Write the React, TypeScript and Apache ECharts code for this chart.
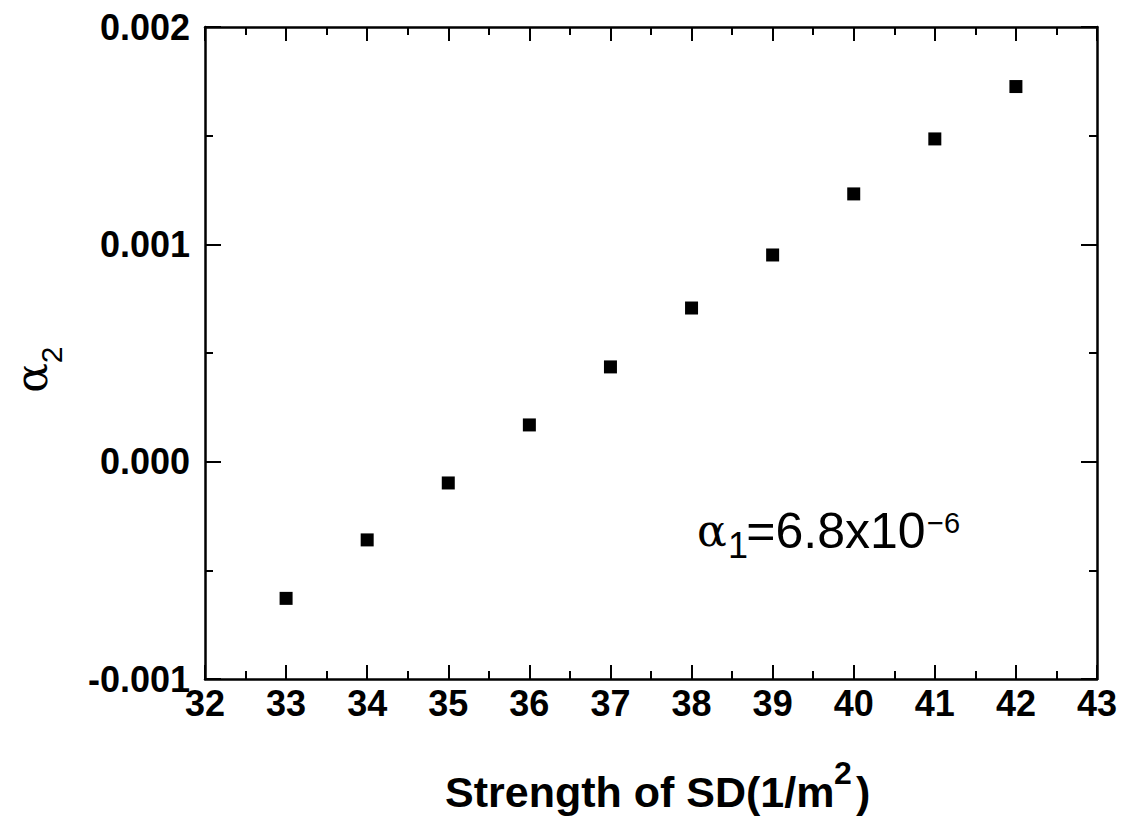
import React, { useEffect, useRef } from "react";
import * as echarts from "echarts";

const xValues = [33, 34, 35, 36, 37, 38, 39, 40, 41, 42];
const alpha2Values = [
  -0.000629, -0.00036, -0.000098, 0.000169, 0.000436, 0.000707, 0.000951,
  0.001232, 0.001485, 0.001726,
];
const xTickRange = [32, 43];
const yTickRange = [-0.001, 0.002];

const SANS = "'Liberation Sans', Arial, Helvetica, sans-serif";
const SERIF = "'DejaVu Serif', 'Liberation Serif', serif";

export default function App() {
  const ref = useRef<HTMLDivElement>(null);

  useEffect(() => {
    if (!ref.current) return;
    const chart = echarts.init(ref.current, null, { renderer: "svg" });

    const lineStyle = { color: "#000", width: 2.5 };
    const tickLine = { color: "#000", width: 2 };

    const xBase = {
      type: "value" as const,
      min: xTickRange[0],
      max: xTickRange[1],
      interval: 1,
      splitLine: { show: false },
      axisLine: { show: true, onZero: false, lineStyle },
      axisTick: { show: true, inside: true, length: 14, lineStyle: tickLine },
      minorTick: { show: true, splitNumber: 2, length: 8, lineStyle: tickLine },
    };
    const yBase = {
      type: "value" as const,
      min: yTickRange[0],
      max: yTickRange[1],
      interval: 0.001,
      splitLine: { show: false },
      axisLine: { show: true, onZero: false, lineStyle },
      axisTick: { show: true, inside: true, length: 16, lineStyle: tickLine },
      minorTick: { show: true, splitNumber: 2, length: 8, lineStyle: tickLine },
    };

    chart.setOption({
      animation: false,
      backgroundColor: "#fff",
      grid: { left: 205, top: 27, width: 892, height: 652, containLabel: false },
      xAxis: [
        {
          ...xBase,
          position: "bottom",
          axisLabel: {
            show: true,
            margin: 6,
            color: "#000",
            fontFamily: SANS,
            fontWeight: "bold",
            fontSize: 36,
          },
        },
        { ...xBase, position: "top", axisLabel: { show: false } },
      ],
      yAxis: [
        {
          ...yBase,
          position: "left",
          axisLabel: {
            show: true,
            margin: 15,
            color: "#000",
            fontFamily: SANS,
            fontWeight: "bold",
            fontSize: 36,
            formatter: (v: number) => {
              const s = v.toFixed(3);
              return s === "-0.000" ? "0.000" : s;
            },
          },
        },
        { ...yBase, position: "right", axisLabel: { show: false } },
      ],
      series: [
        {
          type: "scatter",
          xAxisIndex: 0,
          yAxisIndex: 0,
          symbol: "rect",
          symbolSize: 13,
          itemStyle: { color: "#000", opacity: 1 },
          data: xValues.map((x, i) => [x, alpha2Values[i]]),
        },
      ],
      graphic: [
        // x axis title
        {
          type: "text",
          left: 445,
          top: 770,
          style: {
            text: "Strength of SD(1/m",
            font: `bold 43px ${SANS}`,
            fill: "#000",
          },
        },
        {
          type: "text",
          left: 834,
          top: 757,
          style: { text: "2", font: `bold 32px ${SANS}`, fill: "#000" },
        },
        {
          type: "text",
          left: 856,
          top: 770,
          style: { text: ")", font: `bold 43px ${SANS}`, fill: "#000" },
        },
        // y axis title (rotated)
        {
          type: "text",
          x: 31,
          y: 378,
          rotation: Math.PI / 2,
          style: {
            text: "α",
            font: `44px ${SERIF}`,
            lineHeight: 40,
            fill: "#000",
            align: "center",
            verticalAlign: "middle",
          },
        },
        {
          type: "text",
          x: 51,
          y: 355,
          rotation: Math.PI / 2,
          style: {
            text: "2",
            font: `30px ${SANS}`,
            fill: "#000",
            align: "center",
            verticalAlign: "middle",
          },
        },
        // annotation alpha1 = 6.8x10^-6
        {
          type: "text",
          x: 697,
          y: 530,
          style: {
            text: "α",
            font: `44px ${SERIF}`,
            fill: "#000",
            align: "left",
            verticalAlign: "middle",
          },
        },
        {
          type: "text",
          x: 728,
          y: 545,
          style: {
            text: "1",
            font: `36px ${SANS}`,
            fill: "#000",
            align: "left",
            verticalAlign: "middle",
          },
        },
        {
          type: "text",
          x: 836,
          y: 531,
          style: {
            text: "=6.8x10",
            font: `50px ${SANS}`,
            fill: "#000",
            align: "center",
            verticalAlign: "middle",
          },
        },
        {
          type: "text",
          x: 927,
          y: 523,
          style: {
            text: "−6",
            font: `29px ${SANS}`,
            fill: "#000",
            align: "left",
            verticalAlign: "middle",
          },
        },
      ],
    });

    return () => chart.dispose();
  }, []);

  return (
    <div
      ref={ref}
      style={{ position: "fixed", left: 0, top: 0, width: 1124, height: 821 }}
    />
  );
}
